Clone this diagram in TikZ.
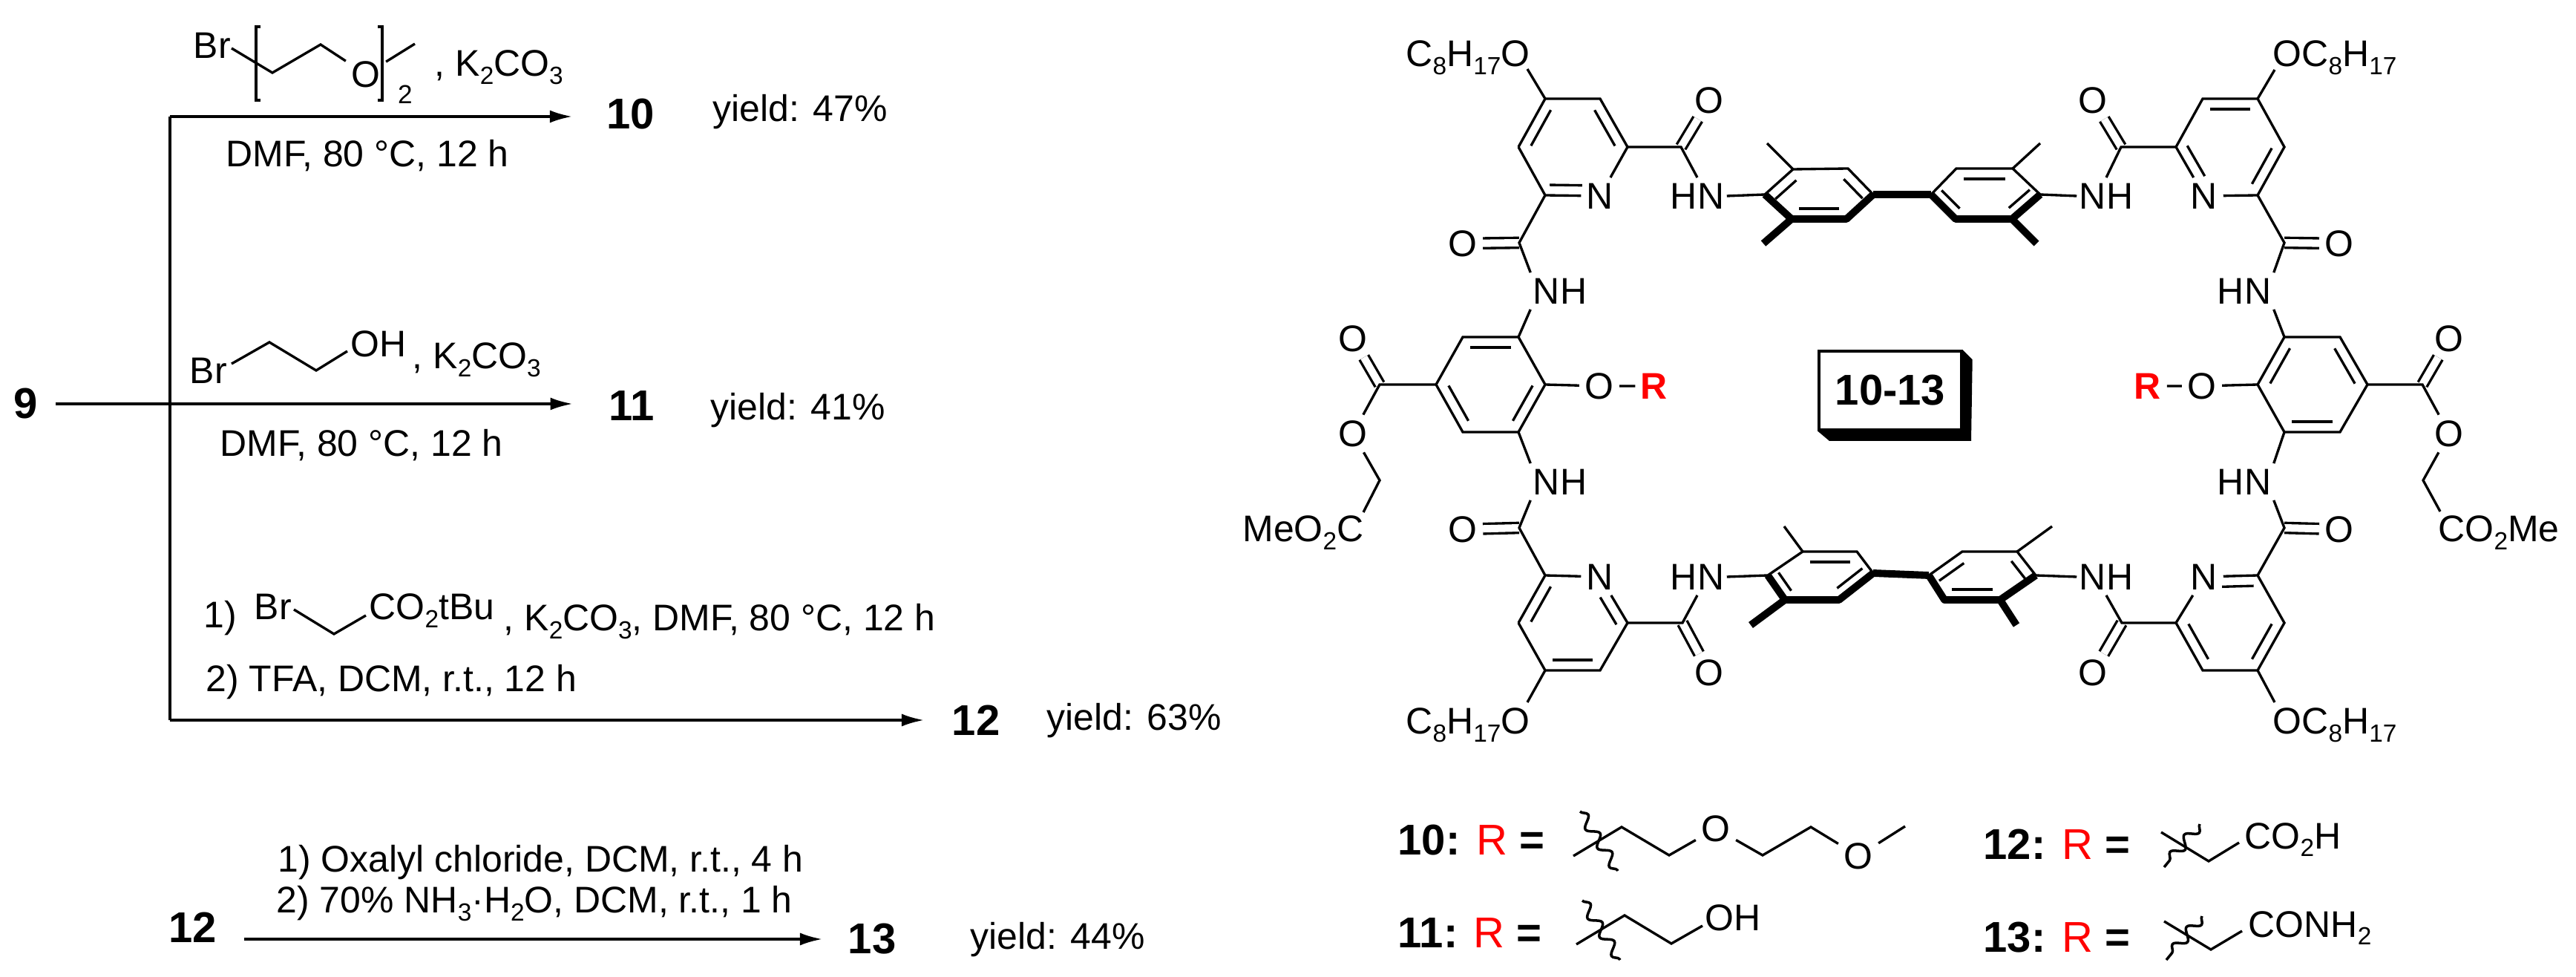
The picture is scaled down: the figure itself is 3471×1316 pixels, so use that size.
\documentclass[tikz,border=0pt]{standalone}
\usepackage{fontspec}
\setmainfont{Liberation Sans}
\usetikzlibrary{arrows.meta,calc,decorations.pathmorphing}

\newcommand\lo[1]{\raisebox{-3pt}{\fontsize{9.5}{9.5}\selectfont #1}}
\newcommand\innerf[4]{\draw[bond] ($(#3)!#1!(#4)!.14cm!-90:(#4)$) -- ($(#4)!#2!(#3)!.14cm!90:(#3)$);}
\newcommand\innerb[2]{\innerf{.13}{.13}{#1}{#2}}

\tikzset{
    bond/.style={line width=.95pt},
    boldbond/.style={line width=2.8pt,line join=round},
    dblbond/.style={double,double distance=.1cm,line width=.95pt},
    wavy/.style={line width=1pt,decorate,decoration={snake,amplitude=.07cm,segment length=.3cm}},
    atom/.style={inner sep=.07cm,font=\fontsize{14.2}{16}\selectfont},
    atomnh/.style={atom,inner xsep=.03cm,inner ysep=.07cm},
    txt/.style={anchor=base west,inner sep=0pt,font=\fontsize{14.2}{16}\selectfont},
    txtr/.style={anchor=base east,inner sep=0pt,font=\fontsize{14.2}{16}\selectfont},
    cmpd/.style={inner sep=.1cm,font=\bfseries\fontsize{16.5}{18}\selectfont},
    lgd/.style={anchor=base west,inner sep=0pt,font=\fontsize{16.5}{18}\selectfont},
}

\begin{document}
\begin{tikzpicture}[x=.01cm,y=-.01cm,>={Latex[length=.3cm,width=.17cm]}]
    \useasboundingbox (0,0) rectangle (3471,1316);

    \node[cmpd] (s9) at (35,544) {9};
    \node[cmpd] (p10) at (850,154) {10};
    \node[cmpd] (p11) at (851,547) {11};
    \node[cmpd] (p12) at (1315,970) {12};
    \node[cmpd] (s12) at (260,1249) {12};
    \node[cmpd] (p13) at (1175,1265) {13};
    \coordinate (brtop) at (229,157);
    \coordinate (brbot) at (229,970);

    \draw[bond] (brtop) -- (brbot);
    \draw[->,bond,shorten >=.36cm] (brtop) -- (brtop -| p10.west);
    \draw[->,bond,shorten <=.13cm,shorten >=.38cm] (s9.east) -- (s9.east -| p11.west);
    \draw[->,bond,shorten >=.27cm] (brbot) -- (brbot -| p12.west);
    \draw[->,bond,shorten <=.26cm,shorten >=.24cm] (s12.east |- p13) -- (p13.west);

    \node[txt] (y47) at (960,164) {yield: 47\%};
    \node[txt] (y41) at (957,566) {yield: 41\%};
    \node[txt] (y63) at (1410,984) {yield: 63\%};
    \node[txt] (y44) at (1307,1278) {yield: 44\%};

    \node[txt] (cond1) at (304,225) {DMF, 80 °C, 12 h};
    \node[txt] (cond2) at (296,615) {DMF, 80 °C, 12 h};
    \node[txt] (cond3) at (277,932) {2) TFA, DCM, r.t., 12 h};
    \node[txt] (cond4) at (274,846) {1)};
    \node[txt] (cond5) at (678,850) {, K\lo{2}CO\lo{3}, DMF, 80 °C, 12 h};
    \node[txt] (cond6) at (374,1175) {1) Oxalyl chloride, DCM, r.t., 4 h};
    \node[txt] (cond7) at (372,1230) {2) 70\% NH\lo{3}·H\lo{2}O, DCM, r.t., 1 h};

    \node[txt] (bra) at (260,79) {Br};
    \node[atom] (oa) at (493,100) {O};
    \node[txt] (ka) at (585,103) {, K\lo{2}CO\lo{3}};
    \node[anchor=base,inner sep=0pt,font=\fontsize{10}{10}\selectfont] (na) at (546,140) {2};
    \coordinate (a1) at (312,65);
    \coordinate (a2) at (367,98);
    \coordinate (a3) at (432,60);
    \coordinate (a4) at (559,59);
    \draw[bond] (a1) -- (a2) -- (a3) -- (oa) -- (a4);
    \draw[bond] (351,36) -- (345,36) -- (345,135) -- (351,135);
    \draw[bond] (509,36) -- (515,36) -- (515,135) -- (509,135);

    \node[txt] (brb) at (255,517) {Br};
    \node[txt] (ohb) at (472,481) {OH};
    \node[txt] (kb) at (555,497) {, K\lo{2}CO\lo{3}};
    \coordinate (b1) at (312,490);
    \coordinate (b2) at (363,461);
    \coordinate (b3) at (426,499);
    \coordinate (b4) at (468,473);
    \draw[bond] (b1) -- (b2) -- (b3) -- (b4);

    \node[txt] (brc) at (342,835) {Br};
    \node[txt] (coc) at (497,835) {CO\lo{2}tBu};
    \coordinate (c1) at (396,821);
    \coordinate (c2) at (450,854);
    \coordinate (c3) at (493,829);
    \draw[bond] (c1) -- (c2) -- (c3);

    \coordinate (pa1) at (2082,133); \coordinate (pa2) at (2156,133); \coordinate (pa3) at (2193,198);
    \node[atom] (pa4) at (2156,264) {N};
    \coordinate (pa5) at (2082,263); \coordinate (pa6) at (2046,198);

    \coordinate (pb1) at (2968,133); \coordinate (pb2) at (3042,133); \coordinate (pb3) at (3078,198);
    \coordinate (pb4) at (3042,263); \coordinate (pb6) at (2932,198);
    \node[atom] (pb5) at (2970,264) {N};

    \coordinate (pc1) at (2082,775); \coordinate (pc3) at (2193,839); \coordinate (pc4) at (2156,903);
    \coordinate (pc5) at (2082,903); \coordinate (pc6) at (2046,839);
    \node[atom] (pc2) at (2156,777) {N};

    \coordinate (pd2) at (3042,775); \coordinate (pd3) at (3078,839); \coordinate (pd4) at (3042,903);
    \coordinate (pd5) at (2968,903); \coordinate (pd6) at (2932,839);
    \node[atom] (pd1) at (2970,777) {N};

    \coordinate (qa1) at (1971,454); \coordinate (qa2) at (2046,454); \coordinate (qa3) at (2082,518);
    \coordinate (qa4) at (2046,582); \coordinate (qa5) at (1971,582); \coordinate (qa6) at (1935,518);

    \coordinate (qb1) at (3078,454); \coordinate (qb2) at (3153,454); \coordinate (qb3) at (3190,518);
    \coordinate (qb4) at (3153,582); \coordinate (qb5) at (3078,582); \coordinate (qb6) at (3042,518);

    \coordinate (ra1) at (2416,228); \coordinate (ra2) at (2490,227); \coordinate (ra3) at (2524,262);
    \coordinate (ra4) at (2488,295); \coordinate (ra5) at (2414,295); \coordinate (ra6) at (2378,262);

    \coordinate (rb1) at (2636,227); \coordinate (rb2) at (2712,227); \coordinate (rb3) at (2749,262);
    \coordinate (rb4) at (2711,295); \coordinate (rb5) at (2635,295); \coordinate (rb6) at (2602,262);

    \coordinate (rc1) at (2429,743); \coordinate (rc2) at (2502,743); \coordinate (rc3) at (2524,772);
    \coordinate (rc4) at (2478,808); \coordinate (rc5) at (2405,808); \coordinate (rc6) at (2382,775);

    \coordinate (rd1) at (2644,743); \coordinate (rd2) at (2718,743); \coordinate (rd3) at (2743,775);
    \coordinate (rd4) at (2695,808); \coordinate (rd5) at (2620,808); \coordinate (rd6) at (2599,775);

    \coordinate (ca1) at (2265,198); \coordinate (ca2) at (2047,327);
    \coordinate (cb1) at (2858,198); \coordinate (cb2) at (3078,327);
    \coordinate (cc1) at (2267,839); \coordinate (cc2) at (2047,711);
    \coordinate (cd1) at (2859,839); \coordinate (cd2) at (3078,711);

    \node[atom] (oa1) at (2303,135) {O};
    \node[atom] (oa2) at (1971,328) {O};
    \node[atom] (ob1) at (2820,135) {O};
    \node[atom] (ob2) at (3152,328) {O};
    \node[atom] (oc1) at (2303,906) {O};
    \node[atom] (oc2) at (1971,713) {O};
    \node[atom] (od1) at (2820,906) {O};
    \node[atom] (od2) at (3152,713) {O};

    \draw[dblbond] (ca1) -- (oa1);
    \draw[dblbond] (ca2) -- (oa2);
    \draw[dblbond] (cb1) -- (ob1);
    \draw[dblbond] (cb2) -- (ob2);
    \draw[dblbond] (cc1) -- (oc1);
    \draw[dblbond] (cc2) -- (oc2);
    \draw[dblbond] (cd1) -- (od1);
    \draw[dblbond] (cd2) -- (od2);

    \node[atomnh] (na1) at (2287,264) {HN};
    \node[atomnh] (na2) at (2102,392) {NH};
    \node[atomnh] (nb1) at (2838,264) {NH};
    \node[atomnh] (nb2) at (3024,392) {HN};
    \node[atomnh] (nc1) at (2287,777) {HN};
    \node[atomnh] (nc2) at (2102,649) {NH};
    \node[atomnh] (nd1) at (2838,777) {NH};
    \node[atomnh] (nd2) at (3024,649) {HN};

    \draw[bond] (pa6) -- (pa1) -- (pa2) -- (pa3) -- (pa4);
    \draw[bond] (pa3) -- (ca1) -- (na1.north);
    \draw[bond] (pa4) -- (pa5) -- (pa6);
    \draw[bond] (pa5) -- (ca2) -- (na2.north west);
    \draw[bond] (na2.south west) -- (qa2);
    \innerb{pa2}{pa3}
    \innerb{pa6}{pa1}
    \innerf{.33}{.08}{pa4}{pa5}

    \draw[bond] (pb6) -- (pb1) -- (pb2) -- (pb3) -- (pb4) -- (pb5) -- (pb6);
    \draw[bond] (pb6) -- (cb1) -- (nb1.north);
    \draw[bond] (pb4) -- (cb2) -- (nb2.north east);
    \draw[bond] (nb2.south east) -- (qb1);
    \innerb{pb1}{pb2}
    \innerb{pb3}{pb4}
    \innerf{.3}{.08}{pb5}{pb6}

    \draw[bond] (pc6) -- (pc1) -- (pc2) -- (pc3) -- (pc4) -- (pc5) -- (pc6);
    \draw[bond] (pc3) -- (cc1) -- (nc1.south);
    \draw[bond] (pc1) -- (cc2) -- (nc2.south west);
    \draw[bond] (nc2.north west) -- (qa4);
    \innerf{.33}{.08}{pc2}{pc3}
    \innerb{pc4}{pc5}
    \innerb{pc6}{pc1}

    \draw[bond] (pd6) -- (pd5) -- (pd4) -- (pd3) -- (pd2) -- (pd1) -- (pd6);
    \draw[bond] (pd6) -- (cd1) -- (nd1.south);
    \draw[bond] (pd2) -- (cd2) -- (nd2.south east);
    \draw[bond] (nd2.north east) -- (qb5);
    \innerf{.33}{.08}{pd1}{pd2}
    \innerb{pd3}{pd4}
    \innerb{pd5}{pd6}

    \draw[bond] (qa1) -- (qa2) -- (qa3) -- (qa4) -- (qa5) -- (qa6) -- cycle;
    \innerb{qa1}{qa2}
    \innerb{qa3}{qa4}
    \innerb{qa5}{qa6}

    \draw[bond] (qb1) -- (qb2) -- (qb3) -- (qb4) -- (qb5) -- (qb6) -- cycle;
    \innerb{qb6}{qb1}
    \innerb{qb2}{qb3}
    \innerb{qb4}{qb5}

    \coordinate (ma1) at (2381,193); \coordinate (ma2) at (2376,328);
    \coordinate (mb1) at (2749,193); \coordinate (mb2) at (2744,328);
    \coordinate (mc1) at (2404,709); \coordinate (mc2) at (2359,842);
    \coordinate (md1) at (2765,709); \coordinate (md2) at (2717,842);

    \draw[bond] (na1.east) -- (ra6) -- (ra1) -- (ra2) -- (ra3);
    \draw[bond] (ra1) -- (ma1);
    \draw[boldbond] (ra6) -- (ra5) -- (ra4) -- (ra3);
    \draw[boldbond] (ra5) -- (ma2);
    \innerb{ra2}{ra3}
    \innerb{ra4}{ra5}
    \innerb{ra6}{ra1}

    \draw[bond] (nb1.west) -- (rb3) -- (rb2) -- (rb1) -- (rb6);
    \draw[bond] (rb2) -- (mb1);
    \draw[boldbond] (rb3) -- (rb4) -- (rb5) -- (rb6);
    \draw[boldbond] (rb4) -- (mb2);
    \innerb{rb1}{rb2}
    \innerb{rb3}{rb4}
    \innerb{rb5}{rb6}

    \draw[bond] (nc1.east) -- (rc6) -- (rc1) -- (rc2) -- (rc3);
    \draw[bond] (rc1) -- (mc1);
    \draw[boldbond] (rc6) -- (rc5) -- (rc4) -- (rc3);
    \draw[boldbond] (rc5) -- (mc2);
    \innerb{rc1}{rc2}
    \innerb{rc3}{rc4}
    \innerb{rc5}{rc6}

    \draw[bond] (nd1.west) -- (rd3) -- (rd2) -- (rd1) -- (rd6);
    \draw[bond] (rd2) -- (md1);
    \draw[boldbond] (rd3) -- (rd4) -- (rd5) -- (rd6);
    \draw[boldbond] (rd4) -- (md2);
    \innerb{rd6}{rd1}
    \innerb{rd2}{rd3}
    \innerb{rd4}{rd5}

    \draw[boldbond] (ra3) -- (rb6);
    \draw[boldbond] (rc3) -- (rd6);

    \node[txtr] (oct1) at (2062,90) {C\lo{8}H\lo{17}O};
    \node[txt] (oct2) at (3062,90) {OC\lo{8}H\lo{17}};
    \node[txtr] (oct3) at (2062,989) {C\lo{8}H\lo{17}O};
    \node[txt] (oct4) at (3062,989) {OC\lo{8}H\lo{17}};
    \coordinate (oe1) at (2058,93);
    \coordinate (oe2) at (3065,94);
    \coordinate (oe3) at (2058,946);
    \coordinate (oe4) at (3065,946);
    \draw[bond] (pa1) -- (oe1);
    \draw[bond] (pb2) -- (oe2);
    \draw[bond] (pc5) -- (oe3);
    \draw[bond] (pd4) -- (oe4);

    \node[atom] (oel) at (2155,520) {O};
    \node[atom] (oer) at (2967,520) {O};
    \node[atom,text=red,font=\bfseries\fontsize{14.2}{16}\selectfont] (rl) at (2229,520) {R};
    \node[atom,text=red,font=\bfseries\fontsize{14.2}{16}\selectfont] (rr) at (2894,520) {R};
    \draw[bond] (qa3) -- (oel) -- (rl);
    \draw[bond] (qb6) -- (oer) -- (rr);

    \coordinate (ea) at (1859,518);
    \coordinate (eb) at (3264,518);
    \node[atom] (oea) at (1823,456) {O};
    \node[atom] (oeb) at (3300,456) {O};
    \draw[dblbond] (ea) -- (oea);
    \draw[dblbond] (eb) -- (oeb);
    \node[atom] (osa) at (1823,584) {O};
    \node[atom] (osb) at (3300,584) {O};
    \coordinate (ha) at (1859,647);
    \coordinate (hb) at (3265,647);
    \node[txtr] (mea) at (1838,730) {MeO\lo{2}C};
    \node[txt] (meb) at (3285,730) {CO\lo{2}Me};
    \coordinate (mae) at (1837,690);
    \coordinate (mbe) at (3288,689);
    \draw[bond] (qa6) -- (ea) -- (osa) -- (ha) -- (mae);
    \draw[bond] (qb3) -- (eb) -- (osb) -- (hb) -- (mbe);

    \node[cmpd,draw,line width=.95pt,minimum width=1.92cm,minimum height=1.06cm] (boxl) at (2547,526) {10-13};
    \fill (boxl.north east) -- ++(13,13) -- (2656,594) -- (2465,594) -- (boxl.south west) -- (boxl.south east) -- cycle;

    \node[lgd] (lg10) at (1883,1152) {\textbf{10:} \textcolor{red}{R} \textbf{=}};
    \node[lgd] (lg11) at (1883,1276) {\textbf{11:} \textcolor{red}{R} \textbf{=}};
    \node[lgd] (lg12) at (2672,1158) {\textbf{12:} \textcolor{red}{R} \textbf{=}};
    \node[lgd] (lg13) at (2672,1283) {\textbf{13:} \textcolor{red}{R} \textbf{=}};

    \node[atom] (xo1) at (2312,1116) {O};
    \node[atom] (xo2) at (2504,1153) {O};
    \coordinate (x1) at (2120,1153); \coordinate (x2) at (2185,1114); \coordinate (x3) at (2249,1152);
    \coordinate (x4) at (2375,1152); \coordinate (x5) at (2440,1114); \coordinate (x6) at (2567,1113);
    \draw[bond] (x1) -- (x2) -- (x3) -- (xo1) -- (x4) -- (x5) -- (xo2) -- (x6);
    \coordinate (xw1) at (2129,1093); \coordinate (xw2) at (2180,1173);
    \draw[wavy] (xw1) -- (xw2);

    \node[txt] (yoh) at (2297,1253) {OH};
    \coordinate (y1) at (2124,1272); \coordinate (y2) at (2189,1233);
    \coordinate (y3) at (2252,1271); \coordinate (y4) at (2294,1247);
    \draw[bond] (y1) -- (y2) -- (y3) -- (y4);
    \coordinate (yw1) at (2132,1213); \coordinate (yw2) at (2183,1293);
    \draw[wavy] (yw1) -- (yw2);

    \node[txt] (zco) at (3024,1143) {CO\lo{2}H};
    \coordinate (z1) at (2912,1121); \coordinate (z2) at (2976,1160); \coordinate (z3) at (3017,1135);
    \draw[bond] (z1) -- (z2) -- (z3);
    \coordinate (zw1) at (2964,1110); \coordinate (zw2) at (2916,1168);
    \draw[wavy] (zw1) -- (zw2);

    \node[txt] (wco) at (3029,1262) {CONH\lo{2}};
    \coordinate (w1) at (2916,1241); \coordinate (w2) at (2979,1279); \coordinate (w3) at (3021,1254);
    \draw[bond] (w1) -- (w2) -- (w3);
    \coordinate (ww1) at (2967,1234); \coordinate (ww2) at (2919,1293);
    \draw[wavy] (ww1) -- (ww2);
\end{tikzpicture}
\end{document}
